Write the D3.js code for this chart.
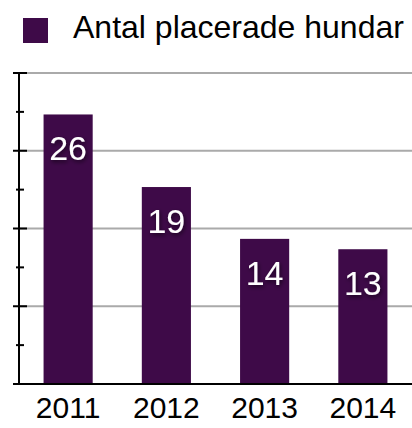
<!DOCTYPE html>
<html>
<head>
<meta charset="utf-8">
<script src="https://cdn.jsdelivr.net/npm/d3@7"></script>
<style>
  body { margin: 0; background: #fff; }
  svg { display: block; font-family: "Liberation Sans", Arial, sans-serif; }
</style>
</head>
<body>
<svg width="412" height="428"></svg>
<script>
// Data
const years = ["2011", "2012", "2013", "2014"];
const dogs = [26, 19, 14, 13];
const seriesName = "Antal placerade hundar";
const majorTicks = [0, 7.5, 15, 22.5, 30];
const minorTicks = [3.75, 11.25, 18.75, 26.25];

const svg = d3.select("svg");
const barColor = "#3e0a48";

// Drop shadow for value labels
const defs = svg.append("defs");
const f = defs.append("filter").attr("id", "shadow").attr("x", "-30%").attr("y", "-30%")
  .attr("width", "160%").attr("height", "160%");
f.append("feDropShadow").attr("dx", 1).attr("dy", 2).attr("stdDeviation", 2)
  .attr("flood-color", "#000").attr("flood-opacity", 0.6);

const x = d3.scaleBand().domain(years).range([19, 412]).paddingInner(0.5).paddingOuter(0.25);
const y = d3.scaleLinear().domain([0, 30]).range([384, 73]);

// Gridlines
svg.append("g").selectAll("line").data(majorTicks.slice(1)).enter().append("line")
  .attr("x1", 19).attr("x2", 412)
  .attr("y1", d => y(d)).attr("y2", d => y(d))
  .attr("stroke", "#aaaaaa").attr("stroke-width", 2);

// Bars
svg.append("g").selectAll("rect").data(dogs).enter().append("rect")
  .attr("x", (d, i) => x(years[i]))
  .attr("width", x.bandwidth())
  .attr("y", d => y(d))
  .attr("height", d => y(0) - y(d))
  .attr("fill", barColor);

// Value labels
svg.append("g").selectAll("text").data(dogs).enter().append("text")
  .attr("x", (d, i) => x(years[i]) + x.bandwidth() / 2)
  .attr("y", d => y(d) + 46)
  .attr("text-anchor", "middle")
  .attr("font-size", 34)
  .attr("fill", "#fff")
  .attr("filter", "url(#shadow)")
  .text(d => d);

// Y axis line and ticks
svg.append("line").attr("x1", 19).attr("x2", 19).attr("y1", y(30)).attr("y2", y(0))
  .attr("stroke", "#000").attr("stroke-width", 2);
svg.append("g").selectAll("line").data(majorTicks).enter().append("line")
  .attr("x1", 13).attr("x2", 27)
  .attr("y1", d => y(d)).attr("y2", d => y(d))
  .attr("stroke", "#000").attr("stroke-width", 2);
svg.append("g").selectAll("line").data(minorTicks).enter().append("line")
  .attr("x1", 16).attr("x2", 24)
  .attr("y1", d => y(d)).attr("y2", d => y(d))
  .attr("stroke", "#000").attr("stroke-width", 2);

// X baseline
svg.append("line").attr("x1", 13).attr("x2", 412).attr("y1", y(0)).attr("y2", y(0))
  .attr("stroke", "#000").attr("stroke-width", 2);

// X labels
svg.append("g").selectAll("text").data(years).enter().append("text")
  .attr("x", d => x(d) + x.bandwidth() / 2)
  .attr("y", 418)
  .attr("text-anchor", "middle")
  .attr("font-size", 30)
  .attr("fill", "#000")
  .text(d => d);

// Legend
svg.append("rect").attr("x", 23).attr("y", 18).attr("width", 25).attr("height", 25).attr("fill", barColor);
svg.append("text").attr("x", 73).attr("y", 38).attr("font-size", 32).attr("fill", "#000").text(seriesName);
</script>
</body>
</html>
